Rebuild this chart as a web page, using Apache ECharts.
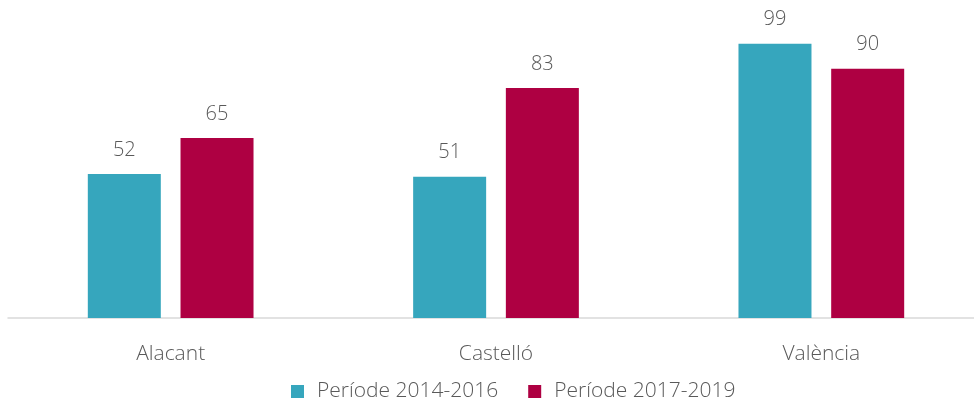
<!DOCTYPE html>
<html>
<head>
<meta charset="utf-8">
<script src="https://cdn.jsdelivr.net/npm/echarts@6/dist/echarts.min.js"></script>
<style>html,body{margin:0;padding:0;background:#fff;overflow:hidden}#chart{width:984px;height:406px}</style>
</head>
<body>
<div id="chart"></div>
<script>
// dades
const provincies = ['Alacant', 'Castelló', 'València'];
const periode1 = [52, 51, 99];
const periode2 = [65, 83, 90];
const noms = ['Període 2014-2016', 'Període 2017-2019'];

const fontFam = '"Open Sans", "Noto Sans", sans-serif';
const grisText = '#595959';

let myChart = echarts.init(document.getElementById('chart'));
myChart.setOption({
	animation: false,
	textStyle: {fontFamily: fontFam},
	legend: {
		top: 376,
		left: 286,
		itemWidth: 13,
		itemHeight: 13,
		itemGap: 30,
		icon: 'rect',
		textStyle: {fontSize: 21, color: grisText, fontWeight: 300, fontFamily: fontFam, padding: [0, 0, 0, 8]},
		data: noms
	},
	grid: {left: 8, right: 0, top: 41, bottom: 88},
	xAxis: {
		type: 'category',
		data: provincies,
		axisLine: {lineStyle: {color: '#D9D9D9', width: 1.5}},
		axisTick: {show: false},
		axisLabel: {fontSize: 21, color: grisText, margin: 26, fontWeight: 300}
	},
	yAxis: {
		type: 'value',
		min: 0,
		max: 100,
		show: false
	},
	series: [
		{
			name: noms[0],
			type: 'bar',
			data: periode1,
			barWidth: 73,
			barGap: '27%',
			itemStyle: {color: '#36A6BD'},
			label: {show: true, position: 'top', distance: 14, fontSize: 20, color: grisText, fontWeight: 300}
		},
		{
			name: noms[1],
			type: 'bar',
			data: periode2,
			barWidth: 73,
			barGap: '27%',
			itemStyle: {color: '#AE0042'},
			label: {show: true, position: 'top', distance: 14, fontSize: 20, color: grisText, fontWeight: 300}
		}
	]
});
</script>
</body>
</html>
